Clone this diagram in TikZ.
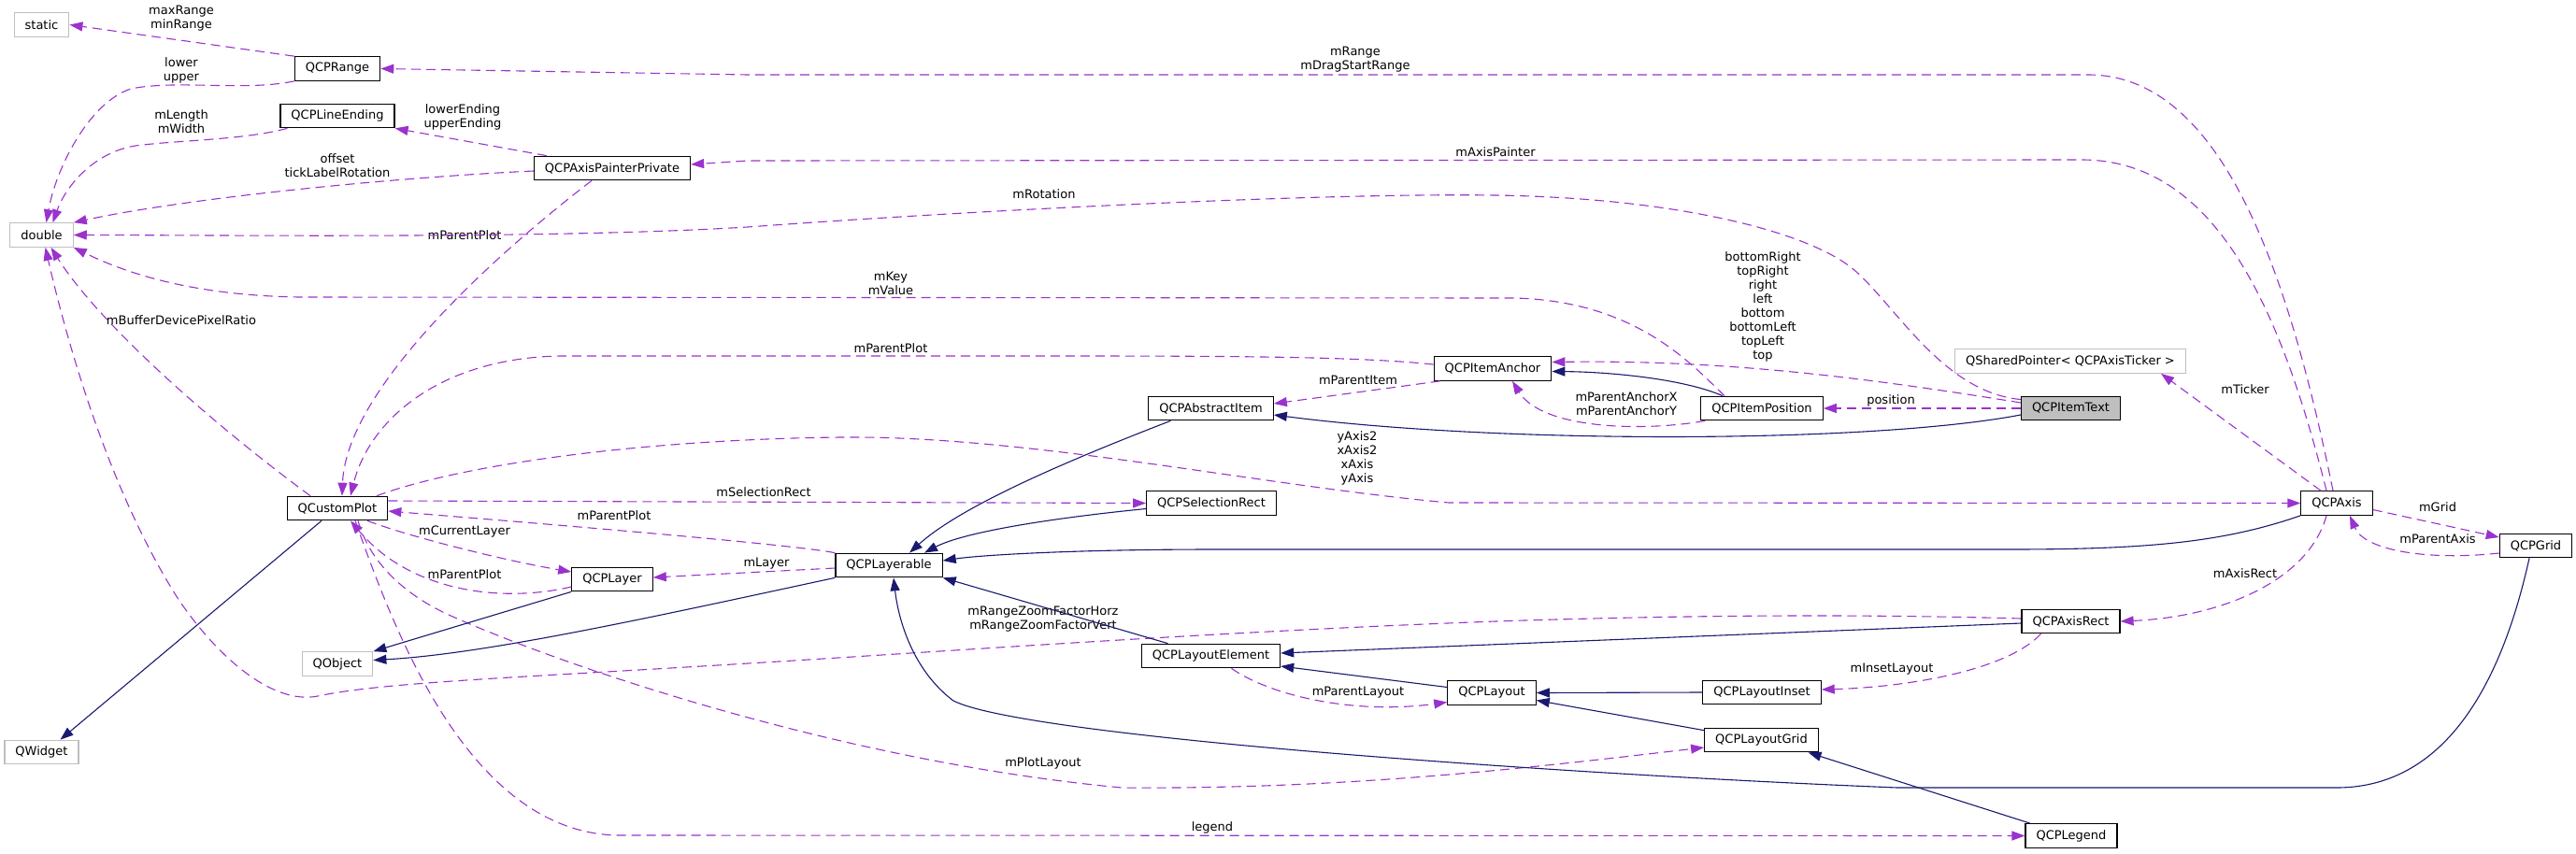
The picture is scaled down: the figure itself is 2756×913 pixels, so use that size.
\documentclass[tikz,border=0pt]{standalone}
\usepackage{fontspec}
\setmainfont{DejaVu Sans}
\usetikzlibrary{arrows.meta}
\definecolor{dxPurple}{HTML}{9A32CD}
\definecolor{dxNavy}{HTML}{191970}
\definecolor{dxGray}{HTML}{BFBFBF}
\newcommand{\dxfont}{\fontsize{13}{15}\selectfont}

\begin{document}
\begin{tikzpicture}[x=1pt, y=-1pt,
      cls/.style={draw=black, line width=1.2pt, fill=white, font=\dxfont,
        inner xsep=11.5pt, inner ysep=0pt, minimum height=25.5pt},
      extcls/.style={cls, draw=dxGray},
      focus/.style={cls, fill=dxGray},
      lbl/.style={font=\dxfont, align=center, inner sep=0pt},
      usage/.style={-{Triangle[length=14pt, width=10pt]}, line width=1.1pt,
        dxPurple, dash pattern=on 10pt off 6pt},
      inherit/.style={-{Triangle[length=14pt, width=10pt]}, line width=1.1pt, dxNavy}]
    \useasboundingbox (0,0) rectangle (2756,913);

    % classes
    \node[extcls] (static) at (44.5,26.5) {static};
    \node[cls] (range) at (361,73.5) {QCPRange};
    \node[cls] (lineend) at (361,124) {QCPLineEnding};
    \node[cls] (painter) at (655,180) {QCPAxisPainterPrivate};
    \node[extcls] (dbl) at (44.5,251.5) {double};
    \node[cls] (cplot) at (361,544) {QCustomPlot};
    \node[cls] (layer) at (655,620) {QCPLayer};
    \node[extcls] (qobj) at (361,710.5) {QObject};
    \node[extcls] (qwidget) at (44.5,805) {QWidget};
    \node[cls] (absitem) at (1295.5,437) {QCPAbstractItem};
    \node[cls] (selrect) at (1296,538.5) {QCPSelectionRect};
    \node[cls] (layerable) at (951,605) {QCPLayerable};
    \node[cls] (anchor) at (1597,394.5) {QCPItemAnchor};
    \node[cls] (itempos) at (1885,437) {QCPItemPosition};
    \node[focus] (itemtext) at (2215.5,437) {QCPItemText};
    \node[extcls] (ticker) at (2215,386.5) {QSharedPointer< QCPAxisTicker >};
    \node[cls] (axis) at (2500,538.5) {QCPAxis};
    \node[cls] (grid) at (2713,584) {QCPGrid};
    \node[cls] (lelem) at (1295.5,702) {QCPLayoutElement};
    \node[cls] (layout) at (1596,741.5) {QCPLayout};
    \node[cls] (axisrect) at (2215.5,665) {QCPAxisRect};
    \node[cls] (linset) at (1885,741) {QCPLayoutInset};
    \node[cls] (lgrid) at (1884.5,792) {QCPLayoutGrid};
    \node[cls] (legend) at (2216,894.5) {QCPLegend};

    % member labels
    \node[lbl] (lMinMax) at (194,20) {maxRange\\minRange};
    \node[lbl] (lLowUp) at (194,75) {lower\\upper};
    \node[lbl] (lLenWid) at (194,130) {mLength\\mWidth};
    \node[lbl] (lEnding) at (495,125) {lowerEnding\\upperEnding};
    \node[lbl] (lOffset) at (361,177) {offset\\tickLabelRotation};
    \node[lbl] (lPlotA) at (497,252) {mParentPlot};
    \node[lbl] (lPixel) at (194,343) {mBufferDevicePixelRatio};
    \node[lbl] (lRot) at (1117,208) {mRotation};
    \node[lbl] (lKeyVal) at (953,303) {mKey\\mValue};
    \node[lbl] (lPlotB) at (953,373) {mParentPlot};
    \node[lbl] (lItem) at (1453,407) {mParentItem};
    \node[lbl] (lPainter) at (1600,163) {mAxisPainter};
    \node[lbl] (lRange) at (1450,64) {mRange\\mDragStartRange};
    \node[lbl] (lAnchors) at (1886,328) {bottomRight\\topRight\\right\\left\\bottom\\bottomLeft\\topLeft\\top};
    \node[lbl] (lTicker) at (2402,417) {mTicker};
    \node[lbl] (lAnchXY) at (1740,432) {mParentAnchorX\\mParentAnchorY};
    \node[lbl] (lPos) at (2023,429) {position};
    \node[lbl] (lAxes) at (1452,490) {yAxis2\\xAxis2\\xAxis\\yAxis};
    \node[lbl] (lSel) at (817,527) {mSelectionRect};
    \node[lbl] (lPlotC) at (657,552) {mParentPlot};
    \node[lbl] (lCurLayer) at (497,569) {mCurrentLayer};
    \node[lbl] (lPlotD) at (497,615) {mParentPlot};
    \node[lbl] (lLayer) at (820,603) {mLayer};
    \node[lbl] (lZoom) at (1116,663) {mRangeZoomFactorHorz\\mRangeZoomFactorVert};
    \node[lbl] (lParLayout) at (1453,741) {mParentLayout};
    \node[lbl] (lPlotLayout) at (1116,817) {mPlotLayout};
    \node[lbl] (lLegend) at (1297,886) {legend};
    \node[lbl] (lGrid) at (2608,543) {mGrid};
    \node[lbl] (lParAxis) at (2608,577) {mParentAxis};
    \node[lbl] (lAxisRect) at (2402,614) {mAxisRect};
    \node[lbl] (lInset) at (2024,716) {mInsetLayout};

    % usage (dashed)
    \draw[usage] (range.north west) -- (static.east);
    \draw[usage] (range.south west) .. controls (262,98) and (190,85) .. (140,95)
      .. controls (95,110) and (60,180) .. ([xshift=5]dbl.north);
    \draw[usage] ([xshift=8]lineend.south west) .. controls (260,150) and (190,150) .. (145,156)
      .. controls (100,163) and (70,200) .. ([xshift=12]dbl.north);
    \draw[usage] ([xshift=14]painter.north west) -- (lineend.south east);
    \draw[usage] ([yshift=-3]painter.west) .. controls (420,190) and (200,212) .. (dbl.north east);
    \draw[usage] ([xshift=-22]painter.south) .. controls (520,280) and (370,420) .. ([xshift=5]cplot.north);
    \draw[usage] (itemtext.170) .. controls (2080,420) and (2030,330) .. (1985,290)
      .. controls (1940,250) and (1800,212) .. (1600,209)
      .. controls (1400,206) and (1000,228) .. (800,243)
      .. controls (600,255) and (300,252) .. (dbl.east);
    \draw[usage] ([xshift=-40]itempos.north) .. controls (1810,390) and (1750,322) .. (1620,319)
      -- (320,318) .. controls (200,316) and (130,290) .. (dbl.south east);
    \draw[usage] (anchor.176) .. controls (1450,381) and (1300,381) .. (1100,381) -- (600,381)
      .. controls (470,383) and (395,450) .. ([xshift=14]cplot.north);
    \draw[usage] ([xshift=7]anchor.south west) -- ([yshift=5]absitem.east);
    \draw[usage] ([xshift=5]itempos.south west) .. controls (1760,462) and (1650,460) .. ([xshift=21]anchor.south);
    \draw[usage] (itemtext.west) -- (itempos.east);
    \draw[usage] ([yshift=6]itemtext.west) .. controls (2000,405) and (1850,385) .. ([yshift=7]anchor.east);
    \draw[usage] ([xshift=-17]axis.north) -- ([xshift=97]ticker.south);
    \draw[usage] ([xshift=-4]axis.north) .. controls (2450,300) and (2380,80) .. (2234,80)
      -- (800,80) -- (range.east);
    \draw[usage] ([xshift=-11]axis.north) .. controls (2440,330) and (2370,171) .. (2227,171)
      -- (800,172) -- ([yshift=4]painter.east);
    \draw[usage] ([xshift=42]cplot.north) .. controls (500,495) and (700,470) .. (900,468)
      .. controls (1100,466) and (1350,520) .. (1550,538) -- (axis.west);
    \draw[usage] ([yshift=8]cplot.east) -- (selrect.west);
    \draw[usage] (layerable.north west) .. controls (850,583) and (600,562) .. ([yshift=-3]cplot.east);
    \draw[usage] ([xshift=32]cplot.south) .. controls (440,575) and (540,600) .. ([yshift=8]layer.west);
    \draw[usage] ([yshift=-8]layer.west) .. controls (540,645) and (440,635) .. ([xshift=14]cplot.south);
    \draw[usage] ([yshift=-3]layerable.west) -- ([yshift=2]layer.east);
    \draw[usage] ([yshift=3]axisrect.west) .. controls (1950,656) and (1750,660) .. (1600,665)
      .. controls (1300,676) and (1000,698) .. (800,710)
      .. controls (560,725) and (410,730) .. (340,745)
      .. controls (290,755) and (230,700) .. (190,640)
      .. controls (120,530) and (75,380) .. ([xshift=4]dbl.south);
    \draw[usage] ([xshift=-29]cplot.north) .. controls (225,452) and (105,345) .. ([xshift=10]dbl.south);
    \draw[usage] ([xshift=22]cplot.south) .. controls (395,600) and (430,635) .. (480,658)
      .. controls (600,712) and (900,815) .. (1200,843)
      .. controls (1450,845) and (1650,820) .. ([yshift=-8]lgrid.west);
    \draw[usage] ([xshift=19]cplot.south) .. controls (420,670) and (500,890) .. (660,894) -- (legend.west);
    \draw[usage] ([xshift=-11]axis.south) .. controls (2470,620) and (2380,660) .. (axisrect.east);
    \draw[usage] ([xshift=-32]axisrect.south) .. controls (2150,715) and (2050,735) .. ([yshift=3]linset.east);
    \draw[usage] ([yshift=-7]axis.east) -- ([yshift=9]grid.west);
    \draw[usage] ([yshift=-8]grid.west) .. controls (2600,600) and (2530,590) .. ([xshift=14]axis.south);
    \draw[usage] ([xshift=22]lelem.south) .. controls (1360,745) and (1450,765) .. ([yshift=-10]layout.west);

    % inheritance (solid)
    \draw[inherit] ([yshift=-7]itemtext.west) .. controls (2000,475) and (1600,475) .. ([yshift=-7]absitem.east);
    \draw[inherit] ([xshift=-42]itempos.north) .. controls (1800,405) and (1720,398) .. ([yshift=-3]anchor.east);
    \draw[inherit] ([xshift=-43]absitem.south) .. controls (1150,490) and (1030,540) .. ([xshift=22]layerable.north);
    \draw[inherit] ([yshift=-6]selrect.west) .. controls (1120,555) and (1030,570) .. ([xshift=38]layerable.north);
    \draw[inherit] (axis.south west) .. controls (2380,580) and (2300,588) .. (2150,588) -- (1300,588)
      .. controls (1150,588) and (1050,594) .. ([yshift=5]layerable.east);
    \draw[inherit] (layerable.south west) .. controls (700,660) and (520,700) .. ([yshift=4]qobj.east);
    \draw[inherit] (layer.south west) -- (qobj.north east);
    \draw[inherit] ([xshift=-17]cplot.south) -- ([xshift=20]qwidget.north);
    \draw[inherit] ([xshift=-46]lelem.north) -- (layerable.south east);
    \draw[inherit] ([xshift=-7]grid.south) .. controls (2670,760) and (2600,843) .. (2500,843) -- (2030,843)
      .. controls (1700,830) and (1100,790) .. (1020,750)
      .. controls (980,720) and (962,670) .. ([xshift=5]layerable.south);
    \draw[inherit] ([yshift=-2]axisrect.west) -- ([yshift=3]lelem.east);
    \draw[inherit] ([yshift=6]layout.west) -- ([yshift=-11]lelem.east);
    \draw[inherit] (linset.west) -- (layout.east);
    \draw[inherit] ([yshift=-3]lgrid.north west) -- ([yshift=-8]layout.east);
    \draw[inherit] ([xshift=-44]legend.north) -- ([xshift=50]lgrid.south);
  \end{tikzpicture}
\end{document}
